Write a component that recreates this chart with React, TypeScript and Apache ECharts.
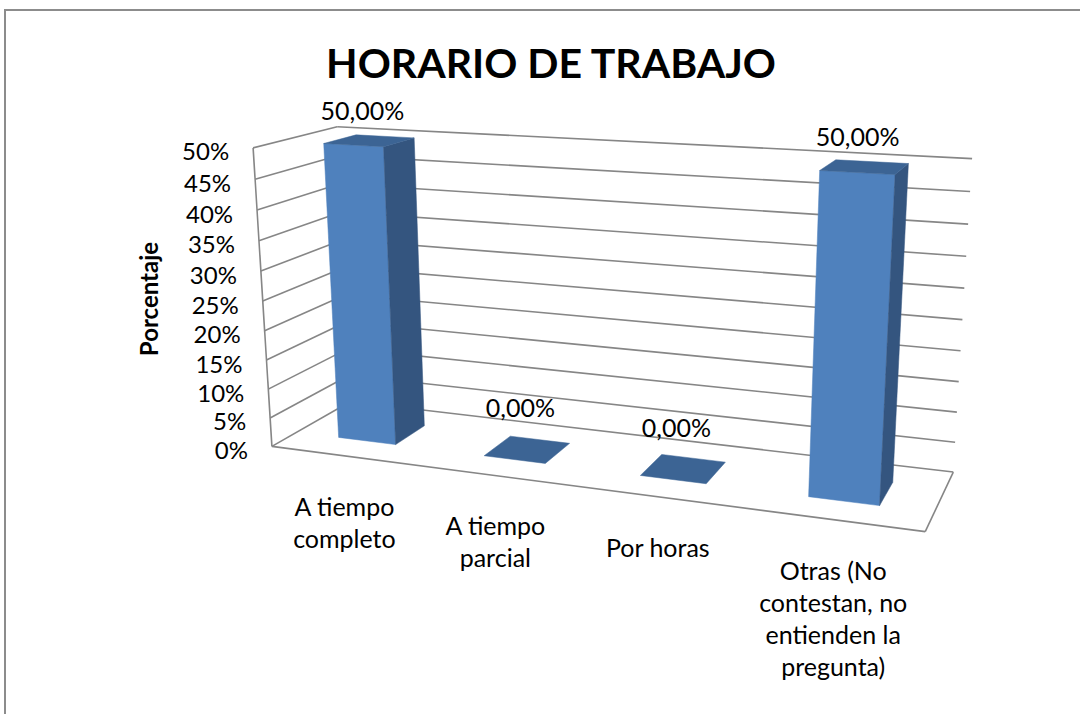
import React, { useEffect, useRef } from "react";
import * as echarts from "echarts";

// ---------- data ----------
const title = "HORARIO DE TRABAJO";
const yAxisName = "Porcentaje";
const categories = [
  "A tiempo\ncompleto",
  "A tiempo\nparcial",
  "Por horas",
  "Otras (No\ncontestan, no\nentienden la\npregunta)",
];
const values = [0.5, 0, 0, 0.5];
const valueLabels = ["50,00%", "0,00%", "0,00%", "50,00%"];
const yTicks = [0, 0.05, 0.1, 0.15, 0.2, 0.25, 0.3, 0.35, 0.4, 0.45, 0.5];
const yTickLabels = ["0%", "5%", "10%", "15%", "20%", "25%", "30%", "35%", "40%", "45%", "50%"];
const Y_MAX = 0.5;

// ---------- layout (3D perspective calibration of the plot box) ----------
// world: u along categories (0..1), v along value (0..1 of axis), w depth (0 front .. 1 back)
const calibWorld = [
  [0, 0, 0], [0, 1, 0], [0, 1, 1], [1, 1, 1], [1, 0, 1], [1, 0, 0], [0, 0.5, 0], [1, 0.5, 1],
];
const calibScreen = [
  [272, 447], [253, 148], [337, 127], [972, 159], [953, 472], [925, 532], [263, 300], [963, 319],
];
const BAR_WIDTH = 0.4; // fraction of category band
const BAR_D0 = 0.3;
const BAR_D1 = 0.7;
const GRID = { left: 0, top: 0, width: 400, height: 400 };

const FONT = "Lato, 'Noto Sans', sans-serif";
const GRID_COLOR = "#868686";
const FRONT = "#4f81bd";
const SIDE = "#34557f";
const TOP = "#3c6494";

function fitProjection(W: number[][], S: number[][]) {
  const cx = 600, cy = 350, sc = 400;
  const rows: number[][] = [];
  const b: number[] = [];
  for (let k = 0; k < W.length; k++) {
    const [X, Y, Z] = W[k];
    const x = (S[k][0] - cx) / sc;
    const y = (S[k][1] - cy) / sc;
    rows.push([X, Y, Z, 1, 0, 0, 0, 0, -x * X, -x * Y, -x * Z]);
    b.push(x);
    rows.push([0, 0, 0, 0, X, Y, Z, 1, -y * X, -y * Y, -y * Z]);
    b.push(y);
  }
  const n = 11;
  const M: number[][] = [];
  for (let i = 0; i < n; i++) {
    M.push(new Array(n + 1).fill(0));
  }
  for (let r = 0; r < rows.length; r++) {
    for (let i = 0; i < n; i++) {
      for (let j = 0; j < n; j++) M[i][j] += rows[r][i] * rows[r][j];
      M[i][n] += rows[r][i] * b[r];
    }
  }
  for (let c = 0; c < n; c++) {
    let p = c;
    for (let r = c + 1; r < n; r++) if (Math.abs(M[r][c]) > Math.abs(M[p][c])) p = r;
    const t = M[c]; M[c] = M[p]; M[p] = t;
    for (let r = 0; r < n; r++) {
      if (r === c) continue;
      const f = M[r][c] / M[c][c];
      for (let j = c; j <= n; j++) M[r][j] -= f * M[c][j];
    }
  }
  const P = M.map((row, i) => row[n] / row[i]);
  return (u: number, v: number, w: number): number[] => {
    const d = P[8] * u + P[9] * v + P[10] * w + 1;
    const x = (P[0] * u + P[1] * v + P[2] * w + P[3]) / d;
    const y = (P[4] * u + P[5] * v + P[6] * w + P[7]) / d;
    return [x * sc + cx, y * sc + cy];
  };
}

const proj = fitProjection(calibWorld, calibScreen);

function toU(px: number) {
  return (px - GRID.left) / GRID.width;
}
function toV(py: number) {
  return (GRID.top + GRID.height - py) / GRID.height;
}

function poly(pts: number[][], fill: string) {
  return {
    type: "polygon",
    shape: { points: pts },
    style: { fill, stroke: fill, lineWidth: 0.5 },
  };
}
function seg(a: number[], b: number[]) {
  return {
    type: "line",
    shape: { x1: a[0], y1: a[1], x2: b[0], y2: b[1] },
    style: { stroke: GRID_COLOR, lineWidth: 1.6 },
  };
}

export default function App() {
  const ref = useRef<HTMLDivElement>(null);
  useEffect(() => {
    if (!ref.current) return;
    const chart = echarts.init(ref.current, null, { renderer: "svg" });

    const frameItem = (params: any, api: any) => {
      const children: any[] = [];
      // gridlines on side wall and back wall, with tick labels on the front edge
      yTicks.forEach((t, i) => {
        const v = toV(api.coord([0, t])[1]);
        children.push(seg(proj(0, v, 0), proj(0, v, 1)));
        children.push(seg(proj(0, v, 1), proj(1, v, 1)));
        const a = proj(0, v, 0);
        children.push({
          type: "text",
          x: a[0] - 24,
          y: a[1] + 3,
          style: {
            text: yTickLabels[i],
            align: "right",
            verticalAlign: "middle",
            font: `24px ${FONT}`,
            fill: "#000",
          },
        });
      });
      // floor outline + front vertical edge
      const vTop = toV(api.coord([0, Y_MAX])[1]);
      children.push(seg(proj(0, 0, 0), proj(1, 0, 0)));
      children.push(seg(proj(1, 0, 0), proj(1, 0, 1)));
      children.push(seg(proj(0, 0, 0), proj(0, vTop, 0)));
      // category labels
      categories.forEach((c, i) => {
        const u = toU(api.coord([i, 0])[0]);
        const a = proj(u, 0, 0);
        children.push({
          type: "text",
          x: a[0] + 1,
          y: a[1] + 34,
          style: {
            text: c,
            align: "center",
            verticalAlign: "top",
            font: `25px ${FONT}`,
            lineHeight: 32,
            fill: "#000",
          },
        });
      });
      return { type: "group", children };
    };

    const barItem = (params: any, api: any) => {
      const idx = api.value(0);
      const val = api.value(1);
      const c = api.coord([idx, val]);
      const base = api.coord([idx, 0]);
      const band = api.size([1, 0])[0];
      const uc = toU(c[0]);
      const hw = (band / GRID.width) * BAR_WIDTH / 2;
      const a = uc - hw;
      const b = uc + hw;
      const v0 = toV(base[1]);
      const v1 = toV(c[1]);
      const w0 = BAR_D0;
      const w1 = BAR_D1;
      const children: any[] = [];
      if (v1 - v0 > 1e-6) {
        children.push(poly([proj(a, v0, w0), proj(b, v0, w0), proj(b, v1, w0), proj(a, v1, w0)], FRONT));
        children.push(poly([proj(b, v0, w0), proj(b, v0, w1), proj(b, v1, w1), proj(b, v1, w0)], SIDE));
      }
      children.push(poly([proj(a, v1, w0), proj(b, v1, w0), proj(b, v1, w1), proj(a, v1, w1)], TOP));
      const lp = proj(uc, v1, 0.5);
      children.push({
        type: "text",
        x: lp[0] - 7,
        y: lp[1] - 42 + 11 * v1,
        style: {
          text: valueLabels[idx],
          align: "center",
          verticalAlign: "middle",
          font: `25px ${FONT}`,
          fill: "#000",
        },
      });
      return { type: "group", children };
    };

    chart.setOption({
      animation: false,
      backgroundColor: "#ffffff",
      grid: { left: GRID.left, top: GRID.top, width: GRID.width, height: GRID.height, show: false },
      xAxis: { type: "category", data: categories, show: false },
      yAxis: { type: "value", min: 0, max: Y_MAX, interval: 0.05, show: false },
      graphic: [
        {
          type: "rect",
          shape: { x: 5, y: 10, width: 1200, height: 900 },
          style: { fill: "none", stroke: "#8c8c8c", lineWidth: 2 },
          silent: true,
        },
        {
          type: "text",
          x: 551,
          y: 62,
          style: {
            text: title,
            align: "center",
            verticalAlign: "middle",
            font: `bold 41px ${FONT}`,
            fill: "#000",
          },
        },
        {
          type: "text",
          x: 148,
          y: 299,
          rotation: Math.PI / 2,
          style: {
            text: yAxisName,
            align: "center",
            verticalAlign: "middle",
            font: `bold 24px ${FONT}`,
            fill: "#000",
          },
        },
      ],
      series: [
        {
          type: "custom",
          renderItem: frameItem,
          data: [[0, 0]],
          silent: true,
          z: 1,
        },
        {
          type: "custom",
          renderItem: barItem,
          data: values.map((v, i) => [i, v]),
          silent: true,
          z: 2,
        },
      ],
    });
    return () => chart.dispose();
  }, []);
  return (
    <div
      ref={ref}
      style={{ position: "absolute", left: 0, top: 0, width: 1080, height: 714 }}
    />
  );
}
